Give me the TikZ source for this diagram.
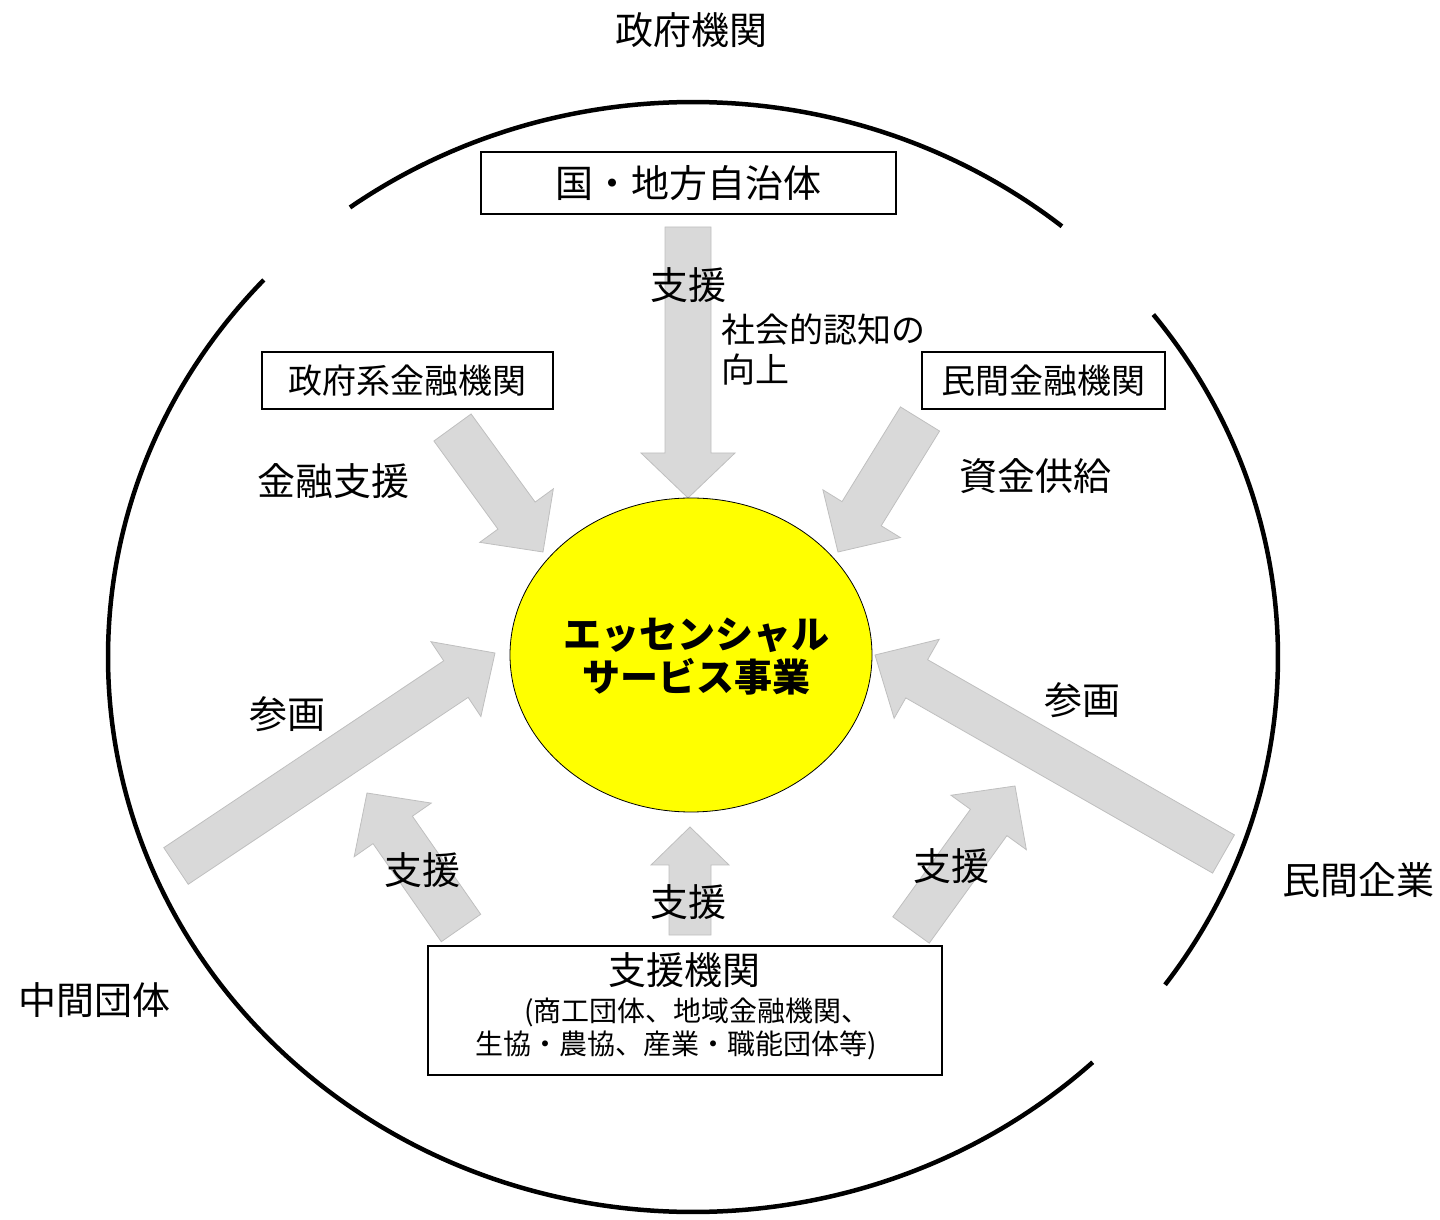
\documentclass[tikz,border=0pt]{standalone}
\usepackage{fontspec}
\setmainfont{Noto Sans CJK JP}
\usetikzlibrary{calc,shapes.geometric}

\definecolor{arrowfill}{HTML}{D9D9D9}
\definecolor{arrowline}{HTML}{BFBFBF}
\definecolor{coreyellow}{HTML}{FFFF00}

\newcommand{\blockarrow}[5]{%
  \coordinate (hb) at ($(#2)!#5!(#1)$);
  \draw[grayarrow] ($(#1)!#3!90:(#2)$) -- ($(hb)!#3!90:(#2)$) -- ($(hb)!#4!90:(#2)$) -- (#2)
    -- ($(hb)!#4!-90:(#2)$) -- ($(hb)!#3!-90:(#2)$) -- ($(#1)!#3!-90:(#2)$) -- cycle;
}

\begin{document}
\begin{tikzpicture}[x=1pt,y=1pt,
  grayarrow/.style={fill=arrowfill, draw=arrowline, line width=0.8pt},
  box/.style={draw, line width=1.2pt, inner sep=0pt},
  ring/.style={line width=4.5pt},
  bigtext/.style={font=\fontsize{38}{44}\selectfont},
  midtext/.style={font=\fontsize{34}{40}\selectfont},
  smalltext/.style={font=\fontsize{28}{32}\selectfont}]
\useasboundingbox (0,0) rectangle (1440,1219);

\coordinate (natA) at (688,992);
\coordinate (natB) at (688,721);
\coordinate (gfiA) at (452.5,791.5);
\coordinate (gfiB) at (543,667);
\coordinate (pfiA) at (920,800);
\coordinate (pfiB) at (838,667);
\coordinate (midA) at (176,353);
\coordinate (midB) at (495,566);
\coordinate (entA) at (1223.5,365);
\coordinate (entB) at (875,564);
\coordinate (supLA) at (461,291);
\coordinate (supLB) at (367,426);
\coordinate (supCA) at (690,284);
\coordinate (supCB) at (690,392);
\coordinate (supRA) at (911,289);
\coordinate (supRB) at (1015,433);

\blockarrow{natA}{natB}{23pt}{47pt}{45pt}
\blockarrow{gfiA}{gfiB}{23pt}{45.5pt}{45pt}
\blockarrow{pfiA}{pfiB}{23pt}{45.5pt}{45pt}
\blockarrow{midA}{midB}{22pt}{45pt}{47pt}
\blockarrow{entA}{entB}{22pt}{45.5pt}{48pt}
\blockarrow{supLA}{supLB}{24pt}{47pt}{45pt}
\blockarrow{supCA}{supCB}{21pt}{39pt}{38pt}
\blockarrow{supRA}{supRB}{22.5pt}{46.5pt}{45pt}

\node[ellipse, draw, fill=coreyellow, line width=0.8pt, minimum width=362pt, minimum height=314pt] (ess) at (691,564) {};
\node[font=\bfseries\fontsize{38}{43}\selectfont, align=center] (esstext) at (696,562) {エッセンシャル\\サービス事業};

\node[bigtext] (govt) at (691,1189) {政府機関};
\node[box, bigtext, minimum width=415pt, minimum height=62pt] (nat) at (688.5,1036) {\raisebox{3pt}{国・地方自治体}};
\node[box, midtext, minimum width=291pt, minimum height=57pt] (gfi) at (407.5,838.5) {政府系金融機関};
\node[box, midtext, minimum width=243pt, minimum height=57pt] (pfi) at (1043.5,838.5) {民間金融機関};
\node[box, minimum width=514pt, minimum height=129pt] (sup) at (685,208.5) {};
\node[bigtext] (supname) at (684,249) {支援機関};
\node[smalltext] (suplist1) at (697,207) {(商工団体、地域金融機関、};
\node[smalltext] (suplist2) at (676,174) {生協・農協、産業・職能団体等)};

\node[bigtext] (finsup) at (333,738) {金融支援};
\node[bigtext] (fund) at (1035,743) {資金供給};
\node[bigtext] (natsup) at (688,934) {支援};
\node[midtext, align=left, anchor=west, inner sep=0pt] (recog) at (721,869) {社会的認知の\\向上};
\node[bigtext] (partL) at (287,505) {参画};
\node[bigtext] (partR) at (1082,519) {参画};
\node[bigtext] (supL) at (422,349) {支援};
\node[bigtext] (supC) at (688,317) {支援};
\node[bigtext] (supR) at (951,353) {支援};
\node[bigtext] (inter) at (94,219) {中間団体};
\node[bigtext] (corp) at (1358,339) {民間企業};

\coordinate (rc) at (693,562);
\foreach \a/\b in {125.9/50.9, 137.2/313.1, -36.2/38.1}
  \draw[ring] ([shift={(\a:585 and 555)}]rc) arc[start angle=\a, end angle=\b, x radius=585, y radius=555];
\end{tikzpicture}
\end{document}
